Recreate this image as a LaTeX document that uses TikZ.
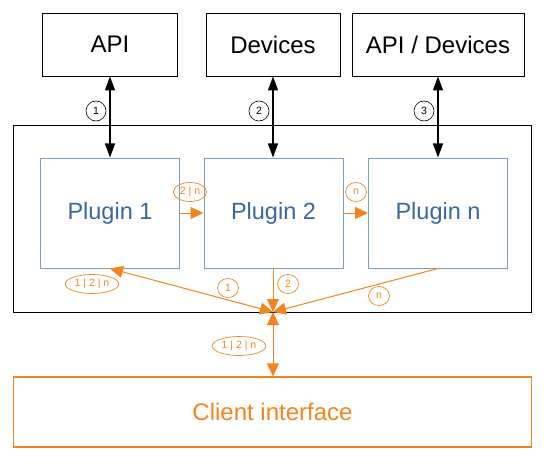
\documentclass[tikz,border=0pt]{standalone}
\usepackage{fontspec}
\setmainfont{Liberation Sans}
\usetikzlibrary{arrows.meta,positioning,shapes.geometric}
\definecolor{flowor}{HTML}{F5841F}
\definecolor{plugtext}{HTML}{3A67A0}
\definecolor{plugline}{HTML}{7E9CBC}

\begin{document}
\begin{tikzpicture}[x=1pt,y=-1pt,
			srcbox/.style={draw=black,line width=0.9pt,minimum height=63pt,inner sep=0pt,
					font=\fontsize{24}{28}\selectfont},
			plugbox/.style={draw=plugline,line width=1pt,minimum width=139pt,minimum height=110pt,
					inner sep=0pt,text=plugtext,font=\fontsize{23.5}{28}\selectfont},
			numtag/.style={circle,draw=black,line width=0.6pt,inner sep=0pt,minimum size=20pt,
					font=\fontsize{10.5}{12}\selectfont},
			ortag/.style={ellipse,draw=flowor,line width=0.7pt,text=flowor,inner sep=1.6pt,
					minimum height=19pt,minimum width=21pt,font=\fontsize{10.5}{12}\selectfont},
			linkarrow/.style={line width=1.2pt,{Triangle[length=14pt,width=10pt]}-{Triangle[length=14pt,width=10pt]}},
			flowarrow/.style={draw=flowor,line width=1pt,-{Triangle[length=13pt,width=12pt]}},
			flowboth/.style={draw=flowor,line width=1pt,{Triangle[length=13pt,width=12pt]}-{Triangle[length=13pt,width=12pt]}},
		]
		\useasboundingbox (0,0) rectangle (554,468);
		% sources
		\node[srcbox,minimum width=135pt] (api) at (110,44.5) {API};
		\node[srcbox,minimum width=134pt] (dev) at (273,44.5) {Devices};
		\node[srcbox,minimum width=172pt] (apidev) at (438,44.5) {API / Devices};
		% plugin host
		\node[draw=black,line width=0.9pt,minimum width=518pt,minimum height=187pt] (host) at (272.5,218.5) {};
		\node[plugbox] (p1) at (110,213) {Plugin 1};
		\node[plugbox] (p2) at (273.5,213) {Plugin 2};
		\node[plugbox] (pn) at (438,213) {Plugin n};
		\node[draw=flowor,line width=1.2pt,minimum width=518pt,minimum height=70pt,text=flowor,
			font=\fontsize{24}{28}\selectfont] (client) at (272.5,412) {Client interface};
		\coordinate (hub) at (273,312);
		% links
		\draw[linkarrow] (api.south -| p1.north) -- (p1.north);
		\draw[linkarrow] (dev.south) -- (p2.north -| dev.south);
		\draw[linkarrow] (apidev.south -| pn.north) -- (pn.north);
		\node[numtag] (t1) at (96,111) {1};
		\node[numtag] (t2) at (259,111) {2};
		\node[numtag] (t3) at (424,111) {3};
		% flows
		\draw[flowarrow] (p1.east) -- (p2.west);
		\draw[flowarrow] (p2.west -| p2.east) -- (pn.west);
		\draw[flowboth] (p1.south) -- (hub);
		\draw[flowarrow] (p2.south -| hub) -- (hub);
		\draw[flowarrow] (pn.south) -- (hub);
		\draw[flowboth] (client.north -| hub) -- (hub);
		\node[ortag] (f2n) at (190,192) {2 | n};
		\node[ortag] (fn) at (356,192) {n};
		\node[ortag] (fall) at (92,284) {1 | 2 | n};
		\node[ortag] (f1) at (228,288) {1};
		\node[ortag] (f2) at (288,284) {2};
		\node[ortag] (fnb) at (379,296) {n};
		\node[ortag] (fout) at (239,346) {1 | 2 | n};
	\end{tikzpicture}
\end{document}
